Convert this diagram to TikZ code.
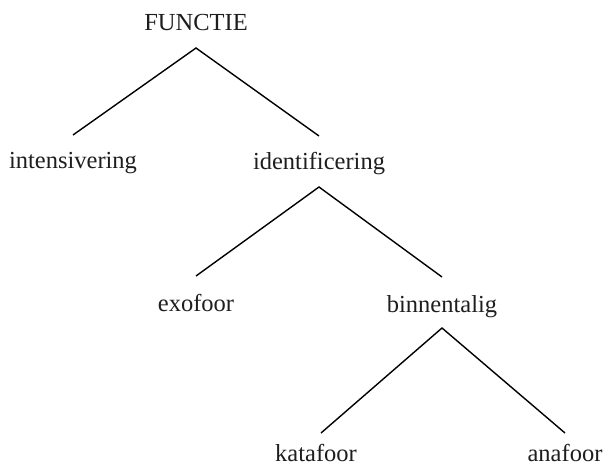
\documentclass[tikz,border=0pt]{standalone}
\usepackage{fontspec}
\setmainfont{Liberation Serif}
\usepackage{xcolor}

\begin{document}
\begin{tikzpicture}[x=1pt, y=-1pt]
% Define colors
\definecolor{treetext}{RGB}{30,30,30}

% Styles
\tikzset{
  label/.style={treetext, anchor=base, inner sep=0pt, font=\fontsize{24.5}{29}\selectfont},
  branch/.style={black, line width=1.4pt}
}

% Canvas
\useasboundingbox (0,0) rectangle (604,468);

% Tree labels
\node[label] (functie) at (196,31) {FUNCTIE};

\node[label] (intens) at (73,168) {intensivering};
\node[label] (ident) at (319,169) {identificering};

\node[label] (exofoor) at (196,311) {exofoor};
\node[label] (binnen) at (442,312) {binnentalig};

\node[label] (katafoor) at (316,461) {katafoor};
\node[label] (anafoor) at (565,461) {anafoor};

% Branches
\draw[branch] ([yshift=33pt]intens.base) -- ([yshift=-17pt]functie.base) -- ([yshift=33pt]ident.base);
\draw[branch] ([yshift=35pt]exofoor.base) -- ([yshift=-18pt]ident.base) -- ([yshift=35pt]binnen.base);
\draw[branch] ([xshift=5pt,yshift=28pt]katafoor.base) -- ([yshift=-16pt]binnen.base) -- ([yshift=28pt]anafoor.base);

\end{tikzpicture}
\end{document}
